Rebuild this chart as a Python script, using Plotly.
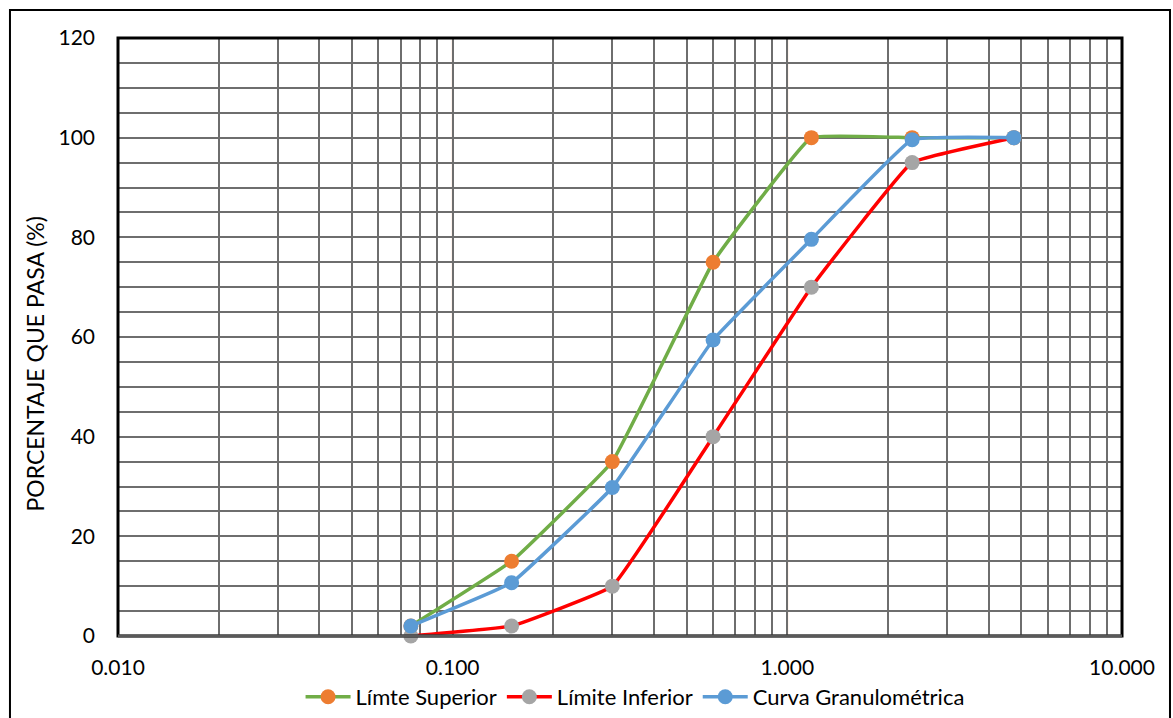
import plotly.graph_objects as go

# Sieve openings (mm) and percent passing
tamiz = [0.075, 0.15, 0.3, 0.6, 1.18, 2.36, 4.75]
limite_superior = [2, 15, 35, 75, 100, 100, 100]
limite_inferior = [0, 2, 10, 40, 70, 95, 100]
curva_granulometrica = [2, 10.7, 29.8, 59.4, 79.6, 99.6, 100]

x_tickvals = [0.01, 0.1, 1, 10]
x_ticktext = ["0.010", "0.100", "1.000", "10.000"]
y_tickvals = [0, 20, 40, 60, 80, 100, 120]

FONT = "Lato"
GRID = "#6e6e6e"

fig = go.Figure()

series = [
    ("Límte Superior", limite_superior, "#70AD47", "#ED7D31"),
    ("Límite Inferior", limite_inferior, "#FF0000", "#A5A5A5"),
    ("Curva Granulométrica", curva_granulometrica, "#5B9BD5", "#5B9BD5"),
]
for name, vals, lc, mc in series:
    fig.add_trace(go.Scatter(
        x=tamiz, y=vals, name=name, mode="lines+markers",
        line=dict(color=lc, width=3.5, shape="spline", smoothing=0.25),
        marker=dict(color=mc, size=15, line=dict(width=0)),
        cliponaxis=False,
    ))

shapes = []
# orange reference lines at 0.1 mm and 1 mm
for xv in (0.1, 1):
    shapes.append(dict(type="line", xref="x", yref="y", x0=xv, x1=xv, y0=0, y1=120,
                       line=dict(color="#ED7D31", width=1.5), layer="below"))
# small tick marks on the 1 mm line
for yv in y_tickvals[1:]:
    shapes.append(dict(type="line", xref="x", yref="y", x0=0.952, x1=1, y0=yv, y1=yv,
                       line=dict(color="#ED7D31", width=1.5), layer="below"))
# plot-area frame
shapes.append(dict(type="rect", xref="paper", yref="paper", x0=0, x1=1, y0=0, y1=1,
                   line=dict(color="black", width=3), layer="above"))
shapes.append(dict(type="line", xref="paper", yref="paper", x0=0, x1=1, y0=0, y1=0,
                   line=dict(color="#595959", width=3), layer="above"))
# chart-area frame
shapes.append(dict(type="rect", xref="paper", yref="paper", x0=-0.1076, x1=1.0478,
                   y0=-0.16, y1=1.0468, line=dict(color="black", width=2), layer="above"))

fig.update_layout(
    width=1173, height=718,
    margin=dict(l=118, r=51, t=38, b=82, autoexpand=False),
    paper_bgcolor="white", plot_bgcolor="white",
    font=dict(family=FONT, size=21, color="black"),
    shapes=shapes,
    showlegend=True,
    legend=dict(orientation="h", x=0.515, xanchor="center", y=-0.102, yanchor="middle",
                font=dict(size=22), itemwidth=45, tracegroupgap=0),
    annotations=[dict(text="PORCENTAJE QUE PASA (%)", xref="paper", yref="paper",
                      x=-0.083, y=0.455, textangle=-90, showarrow=False,
                      font=dict(size=23), xanchor="center", yanchor="middle")],
)

fig.update_xaxes(
    type="log", range=[-2, 1], automargin=False,
    tickvals=x_tickvals, ticktext=x_ticktext,
    showgrid=True, gridcolor=GRID, gridwidth=1.5,
    minor=dict(dtick="D1", showgrid=True, gridcolor=GRID, gridwidth=1.5),
    ticks="", ticklabelstandoff=17, zeroline=False, showline=False,
)
fig.update_yaxes(
    range=[0, 120], tickvals=y_tickvals, automargin=False,
    showgrid=True, gridcolor=GRID, gridwidth=1.5,
    minor=dict(dtick=5, showgrid=True, gridcolor=GRID, gridwidth=1.5),
    ticks="", ticklabelstandoff=22, zeroline=False, showline=False,
)

fig.write_html("out.html")
